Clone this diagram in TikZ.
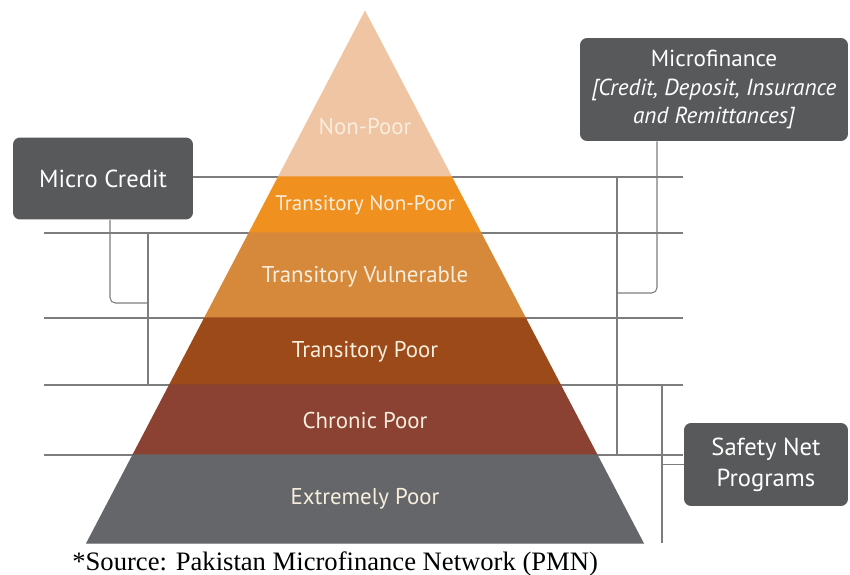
\documentclass[tikz,border=0pt]{standalone}
\usepackage{fontspec}
\setmainfont{Liberation Serif}
\newfontfamily\pyrfont{PT Sans}

\definecolor{boxgray}{RGB}{88,89,91}
\definecolor{linegray}{RGB}{125,125,125}
\definecolor{nonpoor}{RGB}{239,197,163}
\definecolor{trnonpoor}{RGB}{240,144,31}
\definecolor{trvuln}{RGB}{214,137,58}
\definecolor{trpoor}{RGB}{156,74,26}
\definecolor{chronic}{RGB}{139,66,51}
\definecolor{extreme}{RGB}{100,102,105}
\definecolor{labelcream}{RGB}{248,238,222}

\tikzset{
  infobox/.style={fill=boxgray, rounded corners=4pt, text=white, align=center,
                  inner sep=0pt, font=\pyrfont\fontsize{13.2}{16.3}\selectfont},
  guide/.style={draw=linegray, line width=0.6pt},
  bracket/.style={draw=linegray, line width=0.6pt, rounded corners=3pt},
  band/.style={draw=white, line width=0.8pt},
  bandlabel/.style={text=labelcream, font=\pyrfont\fontsize{13}{15}\selectfont},
}

\begin{document}
\begin{tikzpicture}[x=0.02cm,y=-0.02cm]
                    \useasboundingbox (0,0) rectangle (850,575);
                    
                    % Placing boxes
                    \node [infobox, minimum width=3.6cm, minimum height=1.64cm, font=\pyrfont\fontsize{14}{17}\selectfont] (microcredit) at (103,178.5) {Micro Credit};%
                    \node [infobox, minimum width=5.36cm, minimum height=2.06cm] (microfinance) at (714,89.5) {Microfinance\\ \itshape [Credit, Deposit, Insurance\\ \itshape and Remittances]};%
                    \node [infobox, minimum width=3.28cm, minimum height=1.66cm, font=\pyrfont\fontsize{14}{17.5}\selectfont] (safetynet) at (766,464.5) {Safety Net\\ Programs};%
                    
                    % Marking ends of guide lines
                    \coordinate (gA) at (683,177);%
                    \coordinate (gB1) at (44,233);   \coordinate (gB2) at (683,233);%
                    \coordinate (gC1) at (44,318);   \coordinate (gC2) at (683,318);%
                    \coordinate (gD1) at (44,385);   \coordinate (gD2) at (683,385);%
                    \coordinate (gE1) at (44,455);   \coordinate (gE2) at (683,455);%
                    
                    % Drawing guide lines
                    \draw [guide] (microcredit.east |- gA) -- (gA);%
                    \draw [guide] (gB1) -- (gB2);%
                    \draw [guide] (gC1) -- (gC2);%
                    \draw [guide] (gD1) -- (gD2);%
                    \draw [guide] (gE1) -- (gE2);%
                    
                    % Drawing bracket of Micro Credit
                    \coordinate (mcbend) at (110,303);%
                    \coordinate (mctop) at (148,233);%
                    \coordinate (mcbot) at (148,385);%
                    \draw [bracket] (microcredit.south -| mcbend) -- (mcbend) -- (mcbend -| mctop);%
                    \draw [guide] (mctop) -- (mcbot);%
                    
                    % Drawing bracket of Microfinance
                    \coordinate (mfbend) at (657,293);%
                    \coordinate (mftop) at (617,177);%
                    \coordinate (mfbot) at (617,455);%
                    \draw [bracket] (microfinance.south -| mfbend) -- (mfbend) -- (mfbend -| mftop);%
                    \draw [guide] (mftop) -- (mfbot);%
                    
                    % Drawing bracket of Safety Net Programs
                    \coordinate (sntop) at (662,385);%
                    \coordinate (snbot) at (662,543);%
                    \draw [guide] (sntop) -- (snbot);%
                    \draw [guide] (sntop |- safetynet.west) -- (safetynet.west);%
                    
                    % Drawing band Non-Poor
                    \fill [band, nonpoor] (365.00,12) -- (451.38,177) -- (278.62,177) -- cycle;%
                    % Drawing band Transitory Non-Poor
                    \fill [band, trnonpoor] (278.62,177) -- (451.38,177) -- (480.70,233) -- (249.30,233) -- cycle;%
                    % Drawing band Transitory Vulnerable
                    \fill [band, trvuln] (249.30,233) -- (480.70,233) -- (525.19,318) -- (204.81,318) -- cycle;%
                    % Drawing band Transitory Poor
                    \fill [band, trpoor] (204.81,318) -- (525.19,318) -- (560.27,385) -- (169.73,385) -- cycle;%
                    % Drawing band Chronic Poor
                    \fill [band, chronic] (169.73,385) -- (560.27,385) -- (596.91,455) -- (133.09,455) -- cycle;%
                    % Drawing band Extremely Poor
                    \fill [band, extreme] (133.09,455) -- (596.91,455) -- (642.98,543) -- (87.02,543) -- cycle;%
                    
                    % Marking band labels
                    \node [bandlabel] (lnonpoor) at (365,127) {Non-Poor};%
                    \node [bandlabel, font=\pyrfont\fontsize{12}{14}\selectfont] (ltrnonpoor) at (365,205) {Transitory Non-Poor};%
                    \node [bandlabel] (ltrvuln) at (365,277) {Transitory Vulnerable};%
                    \node [bandlabel] (ltrpoor) at (365,352) {Transitory Poor};%
                    \node [bandlabel] (lchronic) at (365,421) {Chronic Poor};%
                    \node [bandlabel] (lextreme) at (365,499) {Extremely Poor};%
                    
                    % Marking source
                    \node [anchor=base west, inner sep=0pt, font=\fontsize{15.15}{18}\selectfont] (source) at (72,570) {*Source: Pakistan Microfinance Network (PMN)};%
                \end{tikzpicture}
\end{document}
